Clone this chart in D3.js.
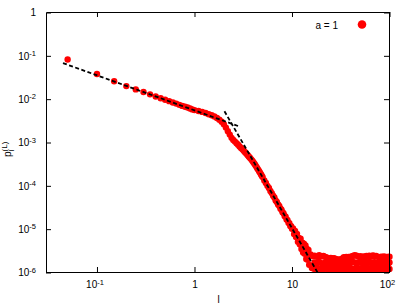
<!DOCTYPE html>
<html>
<head>
<meta charset="utf-8">
<script src="https://cdn.jsdelivr.net/npm/d3@7"></script>
<style>
  body { margin: 0; background: #fff; }
  svg { display: block; }
  text { font-family: "Liberation Sans", Arial, sans-serif; }
</style>
</head>
<body>
<svg id="chart" width="409" height="308"></svg>
<script>
// ---- data ----
const lHead = [0.05, 0.1, 0.15, 0.2, 0.25, 0.3, 0.35, 0.4, 0.45, 0.5,
               0.55, 0.6, 0.65, 0.7, 0.75, 0.8, 0.85, 0.9, 0.95, 1.0];
const pHead = [0.082, 0.038, 0.026, 0.0200, 0.0168, 0.0146, 0.0129, 0.0115, 0.0105, 0.0097,
               0.0090, 0.0084, 0.0079, 0.0074, 0.0070, 0.0067, 0.0064, 0.0061, 0.0058, 0.0056];

const lBend = [1.1, 1.2, 1.3, 1.4, 1.5, 1.6, 1.7, 1.8, 1.9, 2.0,
               2.1, 2.2, 2.3, 2.4, 2.5, 2.6, 2.7, 2.8, 2.9, 3.0,
               3.1, 3.2, 3.3, 3.4, 3.5, 3.6, 3.7, 3.8, 3.9, 4.0,
               4.1, 4.2, 4.3, 4.4, 4.5, 4.6, 4.7, 4.8, 4.9, 5.0];
const pBend = [0.00533, 0.00508, 0.00478, 0.00450, 0.00425, 0.00398, 0.00368, 0.00336, 0.00300, 0.00264,
               0.00221, 0.00183, 0.00152, 0.00128, 0.00114, 0.00105, 0.000959, 0.000885, 0.000813, 0.00075,
               0.000697, 0.000643, 0.000597, 0.000554, 0.000514, 0.000477, 0.000443, 0.000414, 0.000384, 0.000357,
               0.000329, 0.000304, 0.000278, 0.000256, 0.000237, 0.000218, 0.000202, 0.000186, 0.000172, 0.000159];

const lSteep = [5.2, 5.4, 5.6, 5.8, 6.0, 6.2, 6.4, 6.6, 6.8, 7.0, 7.2, 7.4, 7.6,
                7.8, 8.0, 8.2, 8.4, 8.6, 8.8, 9.0, 9.2, 9.4, 9.6, 9.8, 10.0];
const pSteep = [1.33e-4, 1.17e-4, 1.00e-4, 8.9e-5, 7.6e-5, 6.8e-5, 5.9e-5, 5.4e-5, 4.6e-5, 4.25e-5, 3.7e-5, 3.45e-5, 3.0e-5,
                2.8e-5, 2.45e-5, 2.32e-5, 2.02e-5, 1.93e-5, 1.68e-5, 1.62e-5, 1.40e-5, 1.37e-5, 1.19e-5, 1.17e-5, 1.02e-5];

const lTail = [10.25, 10.5, 10.75, 11, 11.25, 11.5, 11.75, 12, 12.25, 12.5, 12.75, 13,
               13.25, 13.5, 13.75, 14, 14.25, 14.5, 14.75, 15, 15.5, 16, 16.5];
const pTail = [1.045e-5, 7.7e-6, 9.1e-6, 6.6e-6, 7.8e-6, 5.1e-6, 6.3e-6, 4.5e-6, 6.0e-6, 3.5e-6, 4.9e-6, 2.9e-6,
               4.6e-6, 2.7e-6, 4.2e-6, 2.05e-6, 3.5e-6, 1.96e-6, 3.3e-6, 1.5e-6, 2.6e-6, 1.27e-6, 2.36e-6];

const lFloor = [17, 18, 19, 20, 21, 22, 23, 24, 25, 26, 27, 28, 29, 30, 31, 32, 33, 34, 35, 36, 37, 38, 39, 40,
                42, 44, 46, 48, 50, 52, 54, 56, 58, 60, 62, 64, 66, 68, 70,
                73, 76, 79, 82, 85, 88, 91, 94, 97, 100];
const pFloorHi = [2.45e-6, 2.3e-6, 2.5e-6, 2.35e-6, 2.4e-6, 2.3e-6, 2.2e-6, 2.12e-6, 2.18e-6, 2.1e-6,
                  2.15e-6, 2.05e-6, 1.98e-6, 2.0e-6, 1.95e-6, 2.02e-6, 2.1e-6, 2.25e-6, 2.2e-6, 2.3e-6,
                  2.22e-6, 2.28e-6, 2.2e-6, 2.32e-6, 2.4e-6, 2.52e-6, 2.45e-6, 2.3e-6, 2.38e-6, 2.3e-6,
                  2.35e-6, 2.28e-6, 2.4e-6, 2.35e-6, 2.45e-6, 2.38e-6, 2.42e-6, 2.46e-6, 2.36e-6, 2.42e-6,
                  2.3e-6, 2.25e-6, 2.32e-6, 2.28e-6, 2.35e-6, 2.25e-6, 2.3e-6, 2.28e-6, 2.32e-6];
const pFloorMid = [1.7e-6, 1.6e-6, 1.75e-6, 1.65e-6, 1.58e-6, 1.72e-6, 1.62e-6, 1.55e-6, 1.68e-6, 1.6e-6,
                   1.57e-6, 1.66e-6, 1.52e-6, 1.6e-6, 1.55e-6, 1.63e-6, 1.58e-6, 1.7e-6, 1.62e-6, 1.66e-6,
                   1.6e-6, 1.72e-6, 1.64e-6, 1.68e-6, 1.75e-6, 1.7e-6, 1.62e-6, 1.68e-6, 1.74e-6, 1.65e-6,
                   1.7e-6, 1.6e-6, 1.72e-6, 1.66e-6, 1.75e-6, 1.68e-6, 1.7e-6, 1.64e-6, 1.72e-6, 1.68e-6,
                   1.62e-6, 1.7e-6, 1.66e-6, 1.6e-6, 1.72e-6, 1.65e-6, 1.68e-6, 1.62e-6, 1.7e-6];
const pFloorLo = [1.2e-6, 1.22e-6, 1.19e-6, 1.21e-6, 1.2e-6, 1.23e-6, 1.2e-6, 1.19e-6, 1.22e-6, 1.2e-6,
                  1.21e-6, 1.19e-6, 1.2e-6, 1.22e-6, 1.2e-6, 1.21e-6, 1.19e-6, 1.2e-6, 1.22e-6, 1.2e-6,
                  1.21e-6, 1.2e-6, 1.19e-6, 1.22e-6, 1.2e-6, 1.21e-6, 1.2e-6, 1.22e-6, 1.19e-6, 1.2e-6,
                  1.21e-6, 1.2e-6, 1.22e-6, 1.2e-6, 1.19e-6, 1.21e-6, 1.2e-6, 1.22e-6, 1.2e-6, 1.21e-6,
                  1.19e-6, 1.2e-6, 1.22e-6, 1.2e-6, 1.21e-6, 1.2e-6, 1.19e-6, 1.21e-6, 1.2e-6];

// dashed power-law fits (end points)
const fitShortL = [0.0448, 2.9];
const fitShortP = [0.068, 0.00233];
const fitLongL = [2.03, 18.3];
const fitLongP = [0.00526, 1.0e-6];

// ticks
const xTickVals = [0.1, 1, 10, 100];
const xTickBase = ["10", "1", "10", "10"];
const xTickSup  = ["-1", "", "", "2"];
const yTickVals = [1, 1e-1, 1e-2, 1e-3, 1e-4, 1e-5, 1e-6];
const yTickBase = ["1", "10", "10", "10", "10", "10", "10"];
const yTickSup  = ["", "-1", "-2", "-3", "-4", "-5", "-6"];

const legendLabel = "a = 1";

// ---- setup ----
const svg = d3.select("#chart");
const red = "rgb(255,0,0)";
const ptR = 3.2;

const x = d3.scaleLog().domain([0.03, 100]).range([46, 389.5]);
const y = d3.scaleLog().domain([1e-6, 1]).range([272.5, 12.5]);

// ---- points ----
const pts = [].concat(
  d3.zip(lHead, pHead), d3.zip(lBend, pBend), d3.zip(lSteep, pSteep), d3.zip(lTail, pTail),
  d3.zip(lFloor, pFloorHi), d3.zip(lFloor, pFloorMid), d3.zip(lFloor, pFloorLo)
);

svg.append("g")
  .selectAll("circle")
  .data(pts)
  .join("circle")
    .attr("cx", d => x(d[0]))
    .attr("cy", d => y(d[1]))
    .attr("r", ptR)
    .style("fill", red)
    .style("stroke", "none");

// ---- fit lines ----
const line = d3.line().x(d => x(d[0])).y(d => y(d[1]));
[[fitShortL, fitShortP], [fitLongL, fitLongP]].forEach(([ls, ps]) => {
  svg.append("path")
    .datum(d3.zip(ls, ps))
    .attr("d", line)
    .style("fill", "none")
    .style("stroke", "#000")
    .attr("stroke-width", 1.8)
    .attr("stroke-dasharray", "4,2.5");
});

// ---- axes ----
function supLabels(g, base, sup, shift) {
  g.selectAll(".tick text").each(function (d, i) {
    const t = d3.select(this).text(null);
    if (sup[i] && shift) t.attr("dx", shift);
    t.append("tspan").text(base[i]);
    if (sup[i]) t.append("tspan").attr("dy", "-0.45em").attr("font-size", "7.5px").text(sup[i]);
  });
}

const gx = svg.append("g").attr("transform", "translate(0,272)")
  .call(d3.axisBottom(x).tickValues(xTickVals).tickSizeInner(-5).tickSizeOuter(0).tickPadding(9));
supLabels(gx, xTickBase, xTickSup, -2.5);

svg.append("g").attr("transform", "translate(0,12)")
  .call(d3.axisTop(x).tickValues(xTickVals).tickSizeInner(-5).tickSizeOuter(0).tickFormat(""));

const gy = svg.append("g").attr("transform", "translate(46,0)")
  .call(d3.axisLeft(y).tickValues(yTickVals).tickSizeInner(-5).tickSizeOuter(0).tickPadding(10));
supLabels(gy, yTickBase, yTickSup, 0);

svg.append("g").attr("transform", "translate(389,0)")
  .call(d3.axisRight(y).tickValues(yTickVals).tickSizeInner(-5).tickSizeOuter(0).tickFormat(""));

svg.selectAll(".tick text")
  .attr("font-family", "Liberation Sans, Arial, sans-serif")
  .attr("font-size", 10)
  .style("fill", "#000");
svg.selectAll(".domain, .tick line").style("stroke", "#000");

// ---- titles ----
svg.append("text")
  .attr("x", 218.5).attr("y", 303)
  .attr("text-anchor", "middle")
  .attr("font-size", 10)
  .style("fill", "#000")
  .text("l");

const yt = svg.append("text")
  .attr("transform", "translate(11,157) rotate(-90)")
  .attr("font-size", 10)
  .style("fill", "#000");
yt.append("tspan").text("p");
yt.append("tspan").attr("dy", 2.5).attr("font-size", 8).text("l");
yt.append("tspan").attr("dx", -1.8).attr("dy", -7).attr("font-size", 8).text("(L)");

// ---- legend ----
svg.append("text")
  .attr("x", 338).attr("y", 28.5)
  .attr("text-anchor", "end")
  .attr("font-size", 10)
  .style("fill", "#000")
  .text(legendLabel);
svg.append("circle")
  .attr("cx", 362).attr("cy", 24.5)
  .attr("r", 4.3)
  .style("fill", red);
</script>
</body>
</html>
